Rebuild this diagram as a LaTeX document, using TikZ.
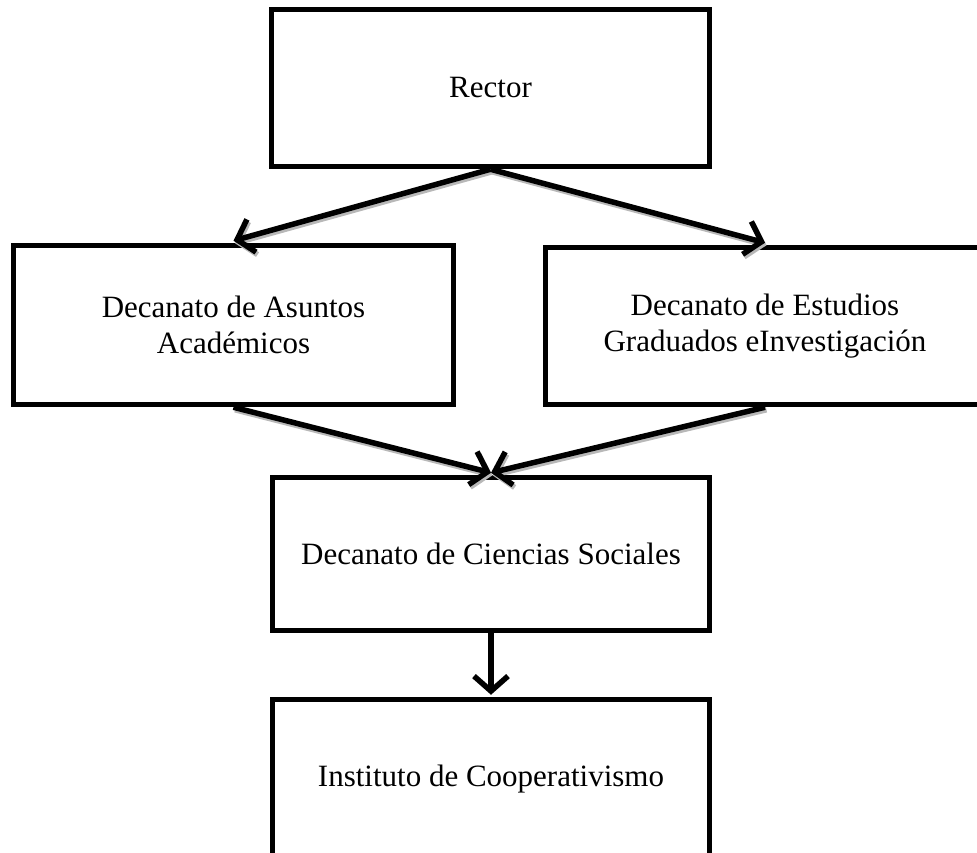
\documentclass[tikz,border=0pt]{standalone}
\usepackage{fontspec}
\setmainfont{Liberation Serif}
\usetikzlibrary{arrows.meta}
\begin{document}
\begin{tikzpicture}[x=1pt,y=-1pt,
  box/.style={draw=black, line width=5.5pt, rectangle, inner sep=0pt, align=center,
    font=\fontsize{31}{36}\selectfont},
  link/.style={draw=black, line width=5.5pt, -{Straight Barb[length=15pt,width=34pt]}},
  linkshadow/.style={draw=black!28, line width=5.5pt, -{Straight Barb[length=15pt,width=34pt]},
    transform canvas={shift={(1.5pt,-2.5pt)}}}]
\useasboundingbox (0,0) rectangle (977,853);
\begin{scope}
\clip (0,0) rectangle (977,853);
\node[box, minimum width=438pt, minimum height=157pt] (rector) at (490.5,88) {Rector};
\node[box, minimum width=440pt, minimum height=159pt] (asuntos) at (233.5,325) {Decanato de Asuntos\\Académicos};
\node[box, minimum width=439pt, minimum height=157pt] (estudios) at (765,326) {Decanato de Estudios\\Graduados eInvestigación};
\node[box, minimum width=437pt, minimum height=153pt] (ciencias) at (491,554) {Decanato de Ciencias Sociales};
\node[box, minimum width=437pt, minimum height=160pt] (instituto) at (491,779.5) {Instituto de Cooperativismo};
\end{scope}
\coordinate (aTop) at ([yshift=2pt]asuntos.north);
\coordinate (eTop) at ([yshift=2pt]estudios.north);
\coordinate (cTop) at ([yshift=2pt]ciencias.north);
\coordinate (iTop) at ([yshift=2pt]instituto.north);
\draw[linkshadow] (rector.south) -- (aTop);
\draw[linkshadow] (rector.south) -- (eTop);
\draw[linkshadow] (asuntos.south) -- (cTop);
\draw[linkshadow] (estudios.south) -- (cTop);
\draw[link] (rector.south) -- (aTop);
\draw[link] (rector.south) -- (eTop);
\draw[link] (asuntos.south) -- (cTop);
\draw[link] (estudios.south) -- (cTop);
\draw[link] (ciencias.south) -- (iTop);
\end{tikzpicture}
\end{document}
